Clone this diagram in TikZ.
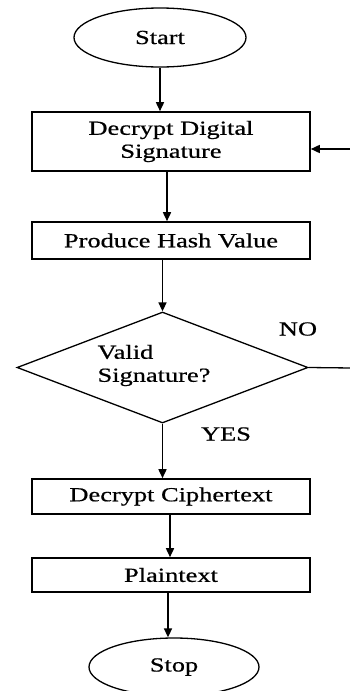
\documentclass[tikz,border=0pt]{standalone}
\usepackage{fontspec}
\setmainfont[FakeStretch=1.32,FakeBold=0.6]{Liberation Serif}
\usetikzlibrary{shapes.geometric,arrows.meta,calc}
\begin{document}
\begin{tikzpicture}[x=1pt,y=-1pt,
  every node/.style={font=\fontsize{20}{23}\selectfont, text=black},
  proc/.style={draw, line width=1.6pt, rectangle, minimum width=278pt, inner sep=0pt, align=center},
  term/.style={draw, line width=1.3pt, ellipse, inner sep=0pt},
  dec/.style={draw, line width=1.3pt, diamond, inner sep=0pt, minimum width=291pt, minimum height=111pt},
  arr/.style={line width=1.6pt, -{Triangle[length=9pt,width=8pt]}},
  plain/.style={line width=1.3pt}]
\useasboundingbox (0,0) rectangle (350,691);
\clip (0,0) rectangle (350,691);
\fill[white] (0,0) rectangle (350,691);

\node[term, minimum width=172pt, minimum height=59pt] (start) at (160,37.5) {Start};
\node[proc, minimum height=59pt] (dds) at (171,141.5) {Decrypt Digital\\Signature};
\node[proc, minimum height=37pt] (phv) at (171,240.5) {Produce Hash Value};
\node[dec] (valid) at (162.5,367.5) {};
\node[anchor=west, align=left] (vtext) at (94,365.5) {Valid\\Signature?};
\node (no) at (298,329) {NO};
\node (yes) at (226,434) {YES};
\node[proc, minimum height=35pt] (dc) at (171,496.5) {Decrypt Ciphertext};
\node[proc, minimum height=34pt] (pt) at (171,575) {Plaintext};
\node[term, minimum width=170pt, minimum height=58pt] (stop) at (174,667) {Stop};

\coordinate (r1) at (352,368);
\coordinate (r2) at (352,149);

\draw[arr] (start.south) -- (start.south |- dds.north);
\draw[arr] ([xshift=-4pt]dds.south) -- ([xshift=-4pt]dds.south |- phv.north);
\draw[arr] (phv.south -| valid.north) -- (valid.north);
\draw[arr] (valid.south) -- (valid.south |- dc.north);
\draw[arr] ([xshift=-1pt]dc.south) -- ([xshift=-1pt]dc.south |- pt.north);
\draw[arr] ([xshift=-3pt]pt.south) -- ([xshift=-3pt]pt.south |- stop.north);
\draw[plain] (valid.east) -- (r1);
\draw[arr] (r2) -- (r2 -| dds.east);
\end{tikzpicture}
\end{document}
